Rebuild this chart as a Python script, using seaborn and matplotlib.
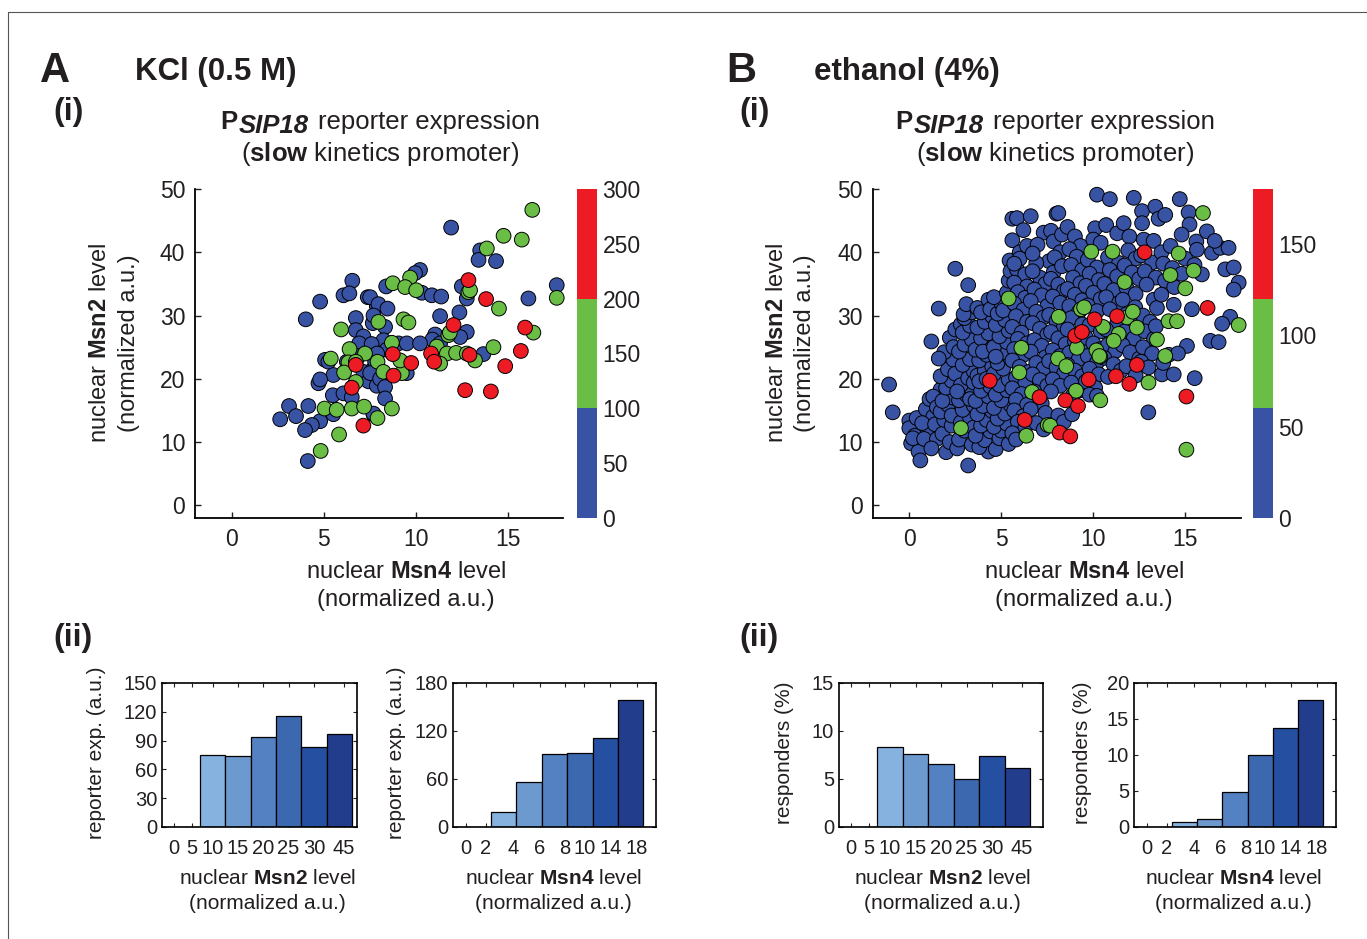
import matplotlib
matplotlib.use("Agg")
import numpy as np
import pandas as pd
import matplotlib.pyplot as plt
import seaborn as sns
from matplotlib.lines import Line2D

# ---------------- data ----------------
# (nuclear Msn4, nuclear Msn2) per cell, split by reporter-expression class
kcl_blue = [
    (6.55, 35.5), (6.07, 33.2), (6.39, 33.5), (4.8, 32.2), (7.39, 32.9), (7.88, 31.5), (4.02, 29.4),
    (6.74, 29.6), (7.66, 28.8), (6.74, 27.7), (7.15, 26.7), (6.92, 25.6), (5.07, 23.0), (5.25, 22.7),
    (6.25, 22.7), (6.9, 23.6), (7.15, 21.1), (7.7, 21.6), (5.52, 20.6), (4.71, 19.3), (4.8, 19.9),
    (7.43, 19.6), (7.88, 18.9), (5.49, 17.4), (6.07, 17.7), (6.52, 17.1), (3.11, 15.7), (4.16, 15.7),
    (2.63, 13.6), (3.49, 14.1), (4.8, 13.3), (4.35, 12.7), (3.98, 11.9), (5.52, 14.4), (7.7, 14.4),
    (4.13, 7.0), (11.92, 43.9), (13.5, 40.3), (13.41, 38.8), (14.36, 38.6), (10.23, 37.2), (9.96, 36.7),
    (8.39, 34.6), (10.33, 33.6), (10.87, 33.2), (11.38, 33.0), (12.5, 34.6), (12.77, 32.7), (17.66, 34.8),
    (16.12, 32.7), (7.52, 32.9), (7.97, 31.8), (8.46, 31.1), (11.32, 29.9), (12.37, 30.5), (7.7, 30.0),
    (8.33, 28.2), (12.77, 27.4), (12.41, 26.6), (11.05, 27.0), (10.9, 26.2), (11.32, 25.6), (9.06, 25.6),
    (9.51, 25.6), (10.23, 25.6), (8.24, 26.1), (8.42, 24.6), (13.67, 23.9), (7.79, 22.7), (7.52, 20.9),
    (8.06, 20.0), (8.33, 18.7), (8.33, 16.9), (7.7, 14.5), (9.51, 20.9), (7.6, 25.5), (7.9, 24.0),
]
kcl_green = [
    (5.94, 27.8), (6.4, 24.7), (5.38, 23.2), (6.34, 22.6), (7.24, 24.0), (6.74, 22.7), (7.92, 22.7),
    (6.1, 21.0), (6.74, 19.5), (5.04, 15.3), (5.7, 15.1), (6.52, 15.3), (7.19, 15.6), (7.92, 13.8),
    (5.83, 11.2), (4.83, 8.6), (7.97, 29.0), (16.33, 46.7), (14.77, 42.6), (15.76, 42.0), (13.86, 40.6),
    (9.69, 36.0), (8.75, 35.1), (9.42, 34.5), (10.02, 34.0), (12.86, 33.7), (12.95, 34.0), (14.52, 31.1),
    (9.33, 29.4), (9.6, 28.9), (16.39, 27.3), (11.77, 26.9), (11.85, 27.3), (8.7, 25.7), (11.14, 25.1),
    (11.69, 24.0), (12.19, 24.1), (12.77, 24.0), (14.22, 25.0), (13.22, 22.9), (11.32, 22.4), (8.24, 21.1),
    (9.24, 20.9), (9.15, 22.9), (17.66, 32.8), (8.7, 15.3),
]
kcl_red = [
    (6.74, 22.2), (6.52, 18.6), (7.15, 12.6), (12.86, 35.6), (13.82, 32.6), (12.05, 28.5), (15.94, 28.1),
    (8.75, 23.9), (9.75, 22.5), (8.79, 20.5), (10.83, 24.0), (11.0, 22.7), (12.92, 23.8), (14.86, 22.0),
    (15.71, 24.4), (12.68, 18.2), (14.08, 18.0),
]

eth_blue = [
    # x < 1.5
    (-1.1, 19.1), (-0.9, 14.7), (0.0, 13.4), (0.0, 12.2), (0.1, 9.8), (0.5, 8.5), (0.6, 7.1), (0.3, 11.0),
    (0.4, 13.8), (0.2, 10.6), (1.0, 12.0), (0.8, 10.5), (1.5, 10.5), (1.2, 25.9), (0.9, 15.2), (1.1, 16.8),
    (1.3, 14.0), (0.7, 13.0), (1.7, 18.3), (1.4, 12.8), (1.2, 9.0), (1.3, 17.2), (1.5, 15.5),
    # 1.5 - 2.5
    (1.6, 31.1), (2.0, 8.4), (1.8, 11.3), (2.2, 10.0), (1.9, 13.5), (2.3, 12.6), (1.7, 14.8), (2.1, 15.9),
    (2.4, 17.0), (1.8, 16.5), (2.0, 18.6), (2.3, 19.7), (1.7, 20.4), (2.1, 21.5), (2.4, 23.0), (1.9, 24.2),
    (2.2, 26.5), (2.5, 27.8), (2.8, 28.6), (2.4, 25.0), (2.5, 37.4), (2.3, 14.2), (1.6, 23.2), (2.5, 20.8),
    (2.6, 9.0),
    # 2.5 - 3.5
    (3.2, 34.8), (3.2, 6.3), (2.7, 10.4), (3.0, 11.8), (3.4, 9.6), (2.8, 13.1), (3.3, 13.9), (2.9, 15.1),
    (3.5, 15.8), (2.7, 16.6), (3.1, 17.5), (3.4, 18.3), (2.8, 19.0), (3.2, 20.1), (3.5, 21.2), (2.9, 22.2),
    (3.3, 23.1), (2.7, 24.3), (3.0, 25.4), (3.4, 26.2), (2.9, 27.3), (3.3, 28.4), (3.0, 29.6), (3.4, 30.5),
    (2.95, 30.2), (3.1, 31.8), (3.5, 19.4), (2.6, 18.0), (3.3, 16.8), (3.5, 12.3),
    # 3.5 - 4.5
    (3.7, 31.2), (4.3, 32.5), (4.3, 8.5), (3.8, 9.2), (4.1, 10.3), (3.6, 11.0), (4.4, 11.7), (3.9, 12.6),
    (4.2, 13.5), (3.7, 14.4), (4.5, 14.9), (4.0, 15.7), (3.6, 16.5), (4.3, 17.2), (3.9, 18.1), (4.4, 18.8),
    (3.7, 20.5), (4.1, 21.3), (4.5, 22.0), (3.8, 22.9), (4.2, 23.8), (3.6, 24.6), (4.4, 25.3), (3.9, 26.4),
    (4.3, 27.2), (3.7, 28.1), (4.1, 29.0), (4.5, 29.9), (3.9, 30.5), (4.4, 31.0), (3.8, 19.6), (4.2, 20.0),
    (4.0, 24.3),
    # 4.5 - 5.5
    (4.7, 8.9), (4.9, 10.6), (5.4, 9.7), (5.0, 11.8), (4.6, 12.4), (5.3, 12.9), (4.8, 13.7), (5.2, 14.5),
    (4.6, 15.4), (5.5, 15.9), (5.0, 16.6), (4.7, 17.5), (5.3, 18.2), (4.9, 19.0), (5.4, 19.9), (4.6, 20.8),
    (5.1, 21.6), (4.8, 22.5), (5.5, 23.2), (5.0, 24.1), (4.6, 25.0), (5.3, 25.8), (4.9, 26.7), (5.4, 27.6),
    (4.7, 28.5), (5.2, 29.3), (4.8, 30.3), (5.5, 31.1), (5.0, 32.0), (4.6, 32.9), (5.3, 33.6), (5.45, 38.7),
    (5.4, 35.5), (5.5, 37.0), (5.1, 30.8), (4.7, 23.5),
    # 5.5 - 6.5
    (5.6, 45.3), (5.85, 45.4), (6.2, 43.5), (5.6, 41.9), (6.0, 40.0), (5.85, 37.3), (6.3, 36.5), (6.0, 39.0),
    (5.7, 35.2), (6.4, 34.6), (5.9, 33.7), (6.3, 32.8), (5.7, 31.9), (6.2, 30.9), (5.8, 29.9), (6.4, 29.0),
    (5.6, 28.2), (6.1, 27.3), (5.9, 26.3), (6.4, 25.6), (5.7, 24.7), (6.2, 23.8), (5.6, 22.9), (6.0, 21.9),
    (6.5, 21.1), (5.8, 20.2), (6.3, 19.3), (5.6, 18.5), (6.1, 17.6), (5.8, 16.7), (6.4, 15.9), (5.7, 15.0),
    (6.2, 14.1), (5.9, 13.2), (6.3, 12.3), (5.6, 11.4), (5.8, 10.4), (5.7, 38.2), (6.4, 41.0),
    # 6.5 - 7.5
    (6.6, 45.7), (7.3, 43.1), (7.7, 43.4), (6.97, 41.2), (7.6, 38.6), (6.9, 38.3), (7.1, 36.0), (6.7, 37.0),
    (7.4, 35.0), (6.8, 34.1), (7.2, 33.2), (6.6, 32.3), (7.5, 31.5), (6.9, 30.6), (7.3, 29.7), (6.7, 28.8),
    (7.1, 27.9), (7.5, 27.0), (6.8, 26.1), (7.2, 25.2), (6.6, 24.3), (7.4, 23.4), (6.9, 22.5), (7.3, 21.6),
    (6.7, 20.7), (7.1, 19.8), (7.5, 18.9), (6.8, 18.0), (7.2, 16.1), (6.6, 15.2), (7.4, 14.6), (6.9, 13.0),
    (7.3, 12.0), (6.7, 39.8),
    # 7.5 - 8.5
    (8.0, 46.1), (8.1, 46.2), (7.84, 41.7), (7.84, 36.8), (8.2, 40.0), (7.9, 39.2), (8.3, 37.8), (7.7, 35.8),
    (8.1, 34.9), (8.4, 33.9), (7.8, 33.0), (8.2, 32.0), (7.6, 30.1), (8.0, 29.1), (8.4, 28.2), (7.7, 27.4),
    (8.1, 26.4), (8.5, 25.5), (7.8, 24.5), (8.2, 23.6), (7.6, 22.8), (8.0, 21.8), (8.4, 20.8), (7.8, 19.9),
    (8.2, 18.9), (7.7, 18.0), (8.1, 14.2), (8.4, 13.2), (8.3, 42.8),
    # 8.5 - 9.5
    (8.6, 44.0), (9.0, 42.5), (9.3, 41.0), (8.7, 40.5), (9.1, 39.3), (8.8, 38.0), (9.4, 37.2), (8.9, 36.0),
    (9.3, 35.1), (8.6, 34.2), (9.0, 33.3), (9.4, 32.4), (8.7, 31.5), (9.2, 30.5), (8.8, 29.6), (9.4, 28.6),
    (8.6, 27.8), (9.0, 25.9), (9.4, 25.0), (8.7, 24.1), (9.2, 23.1), (8.6, 22.2), (9.0, 21.3), (9.4, 20.4),
    (8.8, 19.4), (9.3, 18.2), (8.9, 17.4), (8.85, 14.4),
    # 9.5 - 10.5
    (10.2, 49.1), (10.1, 43.8), (10.0, 42.0), (10.4, 41.5), (9.7, 38.8), (10.2, 37.6), (9.8, 36.6),
    (10.3, 35.6), (9.6, 34.7), (10.0, 33.6), (10.4, 32.6), (9.7, 31.6), (10.2, 30.7), (9.8, 28.5),
    (10.4, 27.5), (9.6, 26.5), (10.0, 25.6), (10.4, 24.7), (9.7, 23.6), (10.2, 22.6), (9.8, 21.6),
    (10.3, 20.7), (9.6, 19.6), (10.1, 18.6), (9.8, 17.5), (10.2, 17.3),
    # 10.5 - 11.5
    (10.9, 48.4), (10.7, 44.3), (11.3, 43.0), (10.8, 39.2), (11.4, 38.3), (10.9, 37.2), (11.3, 36.2),
    (10.6, 35.0), (11.1, 34.0), (10.7, 32.9), (11.4, 32.0), (10.9, 31.0), (11.3, 28.8), (10.7, 27.8),
    (11.4, 26.8), (10.8, 25.4), (11.2, 24.4), (10.6, 23.3), (11.1, 22.3), (11.5, 21.3), (10.8, 20.3),
    # 11.5 - 12.5
    (12.2, 48.6), (11.65, 44.6), (11.96, 42.5), (11.9, 40.3), (12.3, 39.0), (11.7, 37.9), (12.1, 36.8),
    (12.5, 35.8), (11.8, 34.4), (12.3, 33.4), (11.6, 32.5), (12.28, 31.3), (11.8, 30.2), (12.4, 28.5),
    (11.7, 27.5), (12.2, 26.4), (11.6, 25.3), (12.0, 24.2), (12.5, 23.2), (11.8, 22.0), (12.3, 20.5),
    # 12.5 - 13.5
    (12.65, 46.5), (13.37, 47.2), (13.55, 45.3), (12.65, 44.6), (12.74, 42.0), (13.28, 41.8), (12.6, 39.5),
    (13.2, 38.4), (12.8, 37.0), (13.4, 36.0), (12.9, 34.9), (13.28, 32.5), (13.46, 31.2), (12.7, 30.0),
    (13.1, 29.0), (12.8, 27.5), (13.3, 26.3), (12.7, 25.0), (13.2, 24.0), (12.6, 22.7), (13.0, 21.8),
    (12.99, 14.7), (13.4, 28.3),
    # 13.5 - 14.5
    (13.91, 45.9), (14.7, 48.4), (13.7, 40.0), (14.2, 41.0), (13.8, 38.2), (14.3, 37.5), (13.9, 35.5),
    (14.4, 34.5), (13.7, 33.3), (14.37, 31.7), (13.73, 20.7), (14.37, 20.7), (13.8, 22.5), (14.1, 23.8),
    # 14.5 - 16
    (15.18, 46.3), (15.23, 44.4), (15.6, 41.7), (15.63, 40.4), (14.8, 42.8), (15.0, 39.0), (15.5, 38.0),
    (14.8, 36.6), (15.36, 31.0), (15.09, 25.2), (15.51, 20.1), (14.6, 24.0), (15.9, 36.5),
    # 16 - 18
    (16.17, 43.3), (16.45, 39.9), (16.9, 40.7), (17.35, 40.7), (17.17, 37.3), (17.63, 37.6), (17.9, 35.2),
    (17.63, 34.1), (17.44, 29.8), (16.36, 26.0), (16.81, 25.8), (17.0, 28.7), (16.6, 41.8),
]
eth_green = [
    (5.4, 32.7), (8.12, 29.8), (9.33, 31.0), (9.5, 31.3), (11.7, 35.3), (6.09, 24.9), (8.08, 23.2),
    (8.53, 22.0), (9.11, 24.9), (10.17, 24.5), (10.38, 23.5), (10.53, 28.2), (11.38, 27.1), (11.11, 26.0),
    (11.83, 29.7), (12.15, 30.6), (12.37, 28.1), (5.98, 21.0), (6.67, 17.9), (9.06, 18.1), (10.38, 16.6),
    (7.52, 12.7), (6.36, 11.0), (2.81, 12.2), (9.89, 40.1), (11.05, 40.1), (15.96, 46.2), (14.64, 39.8),
    (15.45, 37.1), (14.19, 36.4), (15.0, 34.3), (17.9, 28.5), (13.0, 19.4), (15.06, 8.8), (14.09, 29.1),
    (14.55, 29.1), (13.46, 26.2), (13.91, 23.6), (10.33, 23.6), (7.66, 12.6),
]
eth_red = [
    (12.79, 40.0), (16.21, 31.2), (10.07, 29.4), (11.29, 29.9), (9.02, 26.8), (9.38, 27.4), (4.37, 19.7),
    (7.08, 17.1), (8.48, 16.6), (9.17, 15.7), (9.75, 19.9), (11.23, 20.4), (11.96, 19.2), (12.37, 22.2),
    (6.27, 13.5), (8.17, 11.5), (8.75, 10.9), (15.06, 17.2),
]

# colour classes of the reporter scale
kcl_bounds = [0, 100, 200, 300]
eth_bounds = [0, 60, 120, 180]

# binned bar charts
msn2_bins = ["0", "5", "10", "15", "20", "25", "30", "45"]
msn4_bins = ["0", "2", "4", "6", "8", "10", "14", "18"]
kcl_msn2_expr = [0, 0, 75, 74, 94, 116, 83, 97]
kcl_msn4_expr = [0, 0, 19, 56, 91, 92, 111, 159]
eth_msn2_resp = [0, 0, 8.3, 7.6, 6.6, 5.0, 7.4, 6.1]
eth_msn4_resp = [0, 0, 0.65, 1.05, 4.9, 10.0, 13.8, 17.7]

BLUE, GREEN, RED = "#3953A4", "#6ABD45", "#ED1C24"
bar_colors = ["#85B2DF", "#85B2DF", "#85B2DF", "#6C9ACF", "#5381C2", "#3C68B0", "#2550A2", "#223D8C"]
INK = "#231F20"

# ---------------- style ----------------
sns.set_theme(style="ticks", rc={"axes.edgecolor": "black", "xtick.color": INK,
                                 "ytick.color": INK, "text.color": INK, "axes.labelcolor": INK})
plt.rcParams["font.family"] = ["Liberation Sans", "DejaVu Sans"]
plt.rcParams["mathtext.fontset"] = "custom"
plt.rcParams["mathtext.rm"] = "Liberation Sans"
plt.rcParams["mathtext.bf"] = "Liberation Sans:bold"
plt.rcParams["mathtext.it"] = "Liberation Sans:italic"

W, H = 1367, 939
fig = plt.figure(figsize=(W / 100, H / 100), dpi=100)


def rect(x0, y0, x1, y1):
    return [x0 / W, 1 - y1 / H, (x1 - x0) / W, (y1 - y0) / H]


def put(x, y, s, **kw):
    kw.setdefault("ha", "left")
    kw.setdefault("va", "baseline")
    return fig.text(x / W, 1 - y / H, s, **kw)


def scatter_panel(box, blue, green, red):
    ax = fig.add_axes(rect(*box))
    frames = []
    for pts, lab in ((blue, "lo"), (green, "mid"), (red, "hi")):
        d = pd.DataFrame(pts, columns=["msn4", "msn2"])
        d["grp"] = lab
        frames.append(d)
    df = pd.concat(frames, ignore_index=True)
    sns.scatterplot(data=df, x="msn4", y="msn2", hue="grp",
                    palette={"lo": BLUE, "mid": GREEN, "hi": RED},
                    s=112, edgecolor="black", linewidth=0.7, legend=False, ax=ax, clip_on=False)
    ax.set_xlim(-2, 18)
    ax.set_ylim(-2, 50)
    ax.set_xticks([0, 5, 10, 15])
    ax.set_yticks(range(0, 51, 10))
    sns.despine(ax=ax)
    for sp in ("left", "bottom"):
        ax.spines[sp].set_linewidth(1.3)
    ax.tick_params(direction="in", length=4, width=1, labelsize=16.5, pad=7)
    ax.set_xlabel("")
    ax.set_ylabel("")
    return ax


def colorbar(box, bounds, ticks):
    cax = fig.add_axes(rect(*box))
    for lo, hi, c in zip(bounds[:-1], bounds[1:], (BLUE, GREEN, RED)):
        cax.axhspan(lo, hi, color=c, lw=0)
    cax.set_ylim(bounds[0], bounds[-1])
    cax.set_xlim(0, 1)
    cax.set_xticks([])
    cax.set_yticks(ticks)
    cax.yaxis.tick_right()
    for sp in cax.spines.values():
        sp.set_visible(False)
    cax.tick_params(length=0, labelsize=16.5, pad=4)


def bar_panel(box, values, labels, label_pos, ymax, ystep, xmax):
    ax = fig.add_axes(rect(*box))
    d = pd.DataFrame({"bin": [f"b{i}" for i in range(len(values))], "val": values})
    sns.barplot(data=d, x="bin", y="val", hue="bin", palette=bar_colors, width=1.0,
                saturation=1, edgecolor="black", linewidth=0.9, legend=False, ax=ax)
    ax.set_xlim(0, xmax)
    ax.set_ylim(0, ymax)
    ax.set_yticks(np.arange(0, ymax + 0.1, ystep))
    ax.set_xticks(label_pos)
    ax.set_xticklabels(labels)
    ax.tick_params(axis="both", direction="in", length=3, width=0.8, top=True, right=True, labelsize=14.5)
    ax.tick_params(axis="x", pad=9)
    ax.tick_params(axis="y", pad=3.5)
    for sp in ax.spines.values():
        sp.set_linewidth(1.2)
    ax.set_xlabel("")
    ax.set_ylabel("")
    return ax


def title_block(cx):
    r = fig.canvas.get_renderer()
    t1 = put(0, 0, "P", fontsize=18.5, fontweight="bold")
    t2 = put(0, 0, "SIP18", fontsize=18.5, fontweight="bold", fontstyle="italic")
    t3 = put(0, 0, "reporter expression", fontsize=18.5)
    ws = [t.get_window_extent(r).width for t in (t1, t2, t3)]
    gaps = [2, 9, 0]
    x = cx - (sum(ws) + sum(gaps)) / 2
    for t, w, g, base in zip((t1, t2, t3), ws, gaps, (129, 133, 129)):
        t.set_position((x / W, 1 - base / H))
        x += w + g
    put(cx, 161, r"($\mathbf{slow}$ kinetics promoter)", fontsize=18.5, ha="center")


# ---------------- panels ----------------
scatter_panel((195, 189, 563, 518), kcl_blue, kcl_green, kcl_red)
colorbar((577, 189, 597, 518), kcl_bounds, list(range(0, 301, 50)))
scatter_panel((872.5, 189, 1240.5, 518), eth_blue, eth_green, eth_red)
colorbar((1253, 189, 1273, 518), eth_bounds, [0, 50, 100, 150])

msn2_pos = [0.46, 1.17, 2.0, 3.0, 4.0, 5.0, 6.0, 7.18]
msn4_pos = [0.5, 1.3, 2.37, 3.42, 4.42, 5.17, 6.2, 7.25]
bar_panel((162, 683, 357, 827), kcl_msn2_expr, msn2_bins, msn2_pos, 150, 30, 7.7)
bar_panel((453, 683, 656, 827), kcl_msn4_expr, msn4_bins, msn4_pos, 180, 60, 8.0)
bar_panel((839, 683, 1043, 827), eth_msn2_resp, msn2_bins, msn2_pos, 15, 5, 8.0)
bar_panel((1134, 683, 1336, 827), eth_msn4_resp, msn4_bins, msn4_pos, 20, 5, 8.0)

# ---------------- text ----------------
for x0, letter, cond, cx_title, cx_xl, yl1, yl2 in (
        (40, "A", "KCl (0.5 M)", 380, 406, 100, 129),
        (726, "B", "ethanol (4%)", 1055, 1084, 777, 805)):
    put(x0, 82, letter, fontsize=30, fontweight="bold")
    put(x0 + 95 - (0 if letter == "A" else 7), 80, cond, fontsize=22.5, fontweight="bold")
    put(x0 + 13, 120, "(i)", fontsize=23, fontweight="bold")
    put(x0 + 13, 646, "(ii)", fontsize=23, fontweight="bold")
    title_block(cx_title)
    put(cx_xl, 578, r"nuclear $\mathbf{Msn4}$ level", fontsize=17, ha="center")
    put(cx_xl, 606, "(normalized a.u.)", fontsize=17, ha="center")
    put(yl1, 343, r"nuclear $\mathbf{Msn2}$ level", fontsize=17, rotation=90, ha="center", va="center")
    put(yl2, 343, "(normalized a.u.)", fontsize=17, rotation=90, ha="center", va="center")

for cx, gene in ((267, "Msn2"), (553, "Msn4"), (942, "Msn2"), (1233, "Msn4")):
    put(cx, 884, r"nuclear $\mathbf{" + gene + r"}$ level", fontsize=15, ha="center")
    put(cx, 909, "(normalized a.u.)", fontsize=15, ha="center")

for x, lab in ((97, "reporter exp. (a.u.)"), (397, "reporter exp. (a.u.)"),
               (784, "responders (%)"), (1082, "responders (%)")):
    put(x, 753, lab, fontsize=15, rotation=90, ha="center", va="center")

# page frame lines
fig.add_artist(Line2D([8 / W, 1], [1 - 12 / H, 1 - 12 / H], transform=fig.transFigure, color="#555555", lw=0.8))
fig.add_artist(Line2D([8 / W, 8 / W], [0, 1 - 12 / H], transform=fig.transFigure, color="#555555", lw=0.8))

fig.savefig("out.png", dpi=100)
